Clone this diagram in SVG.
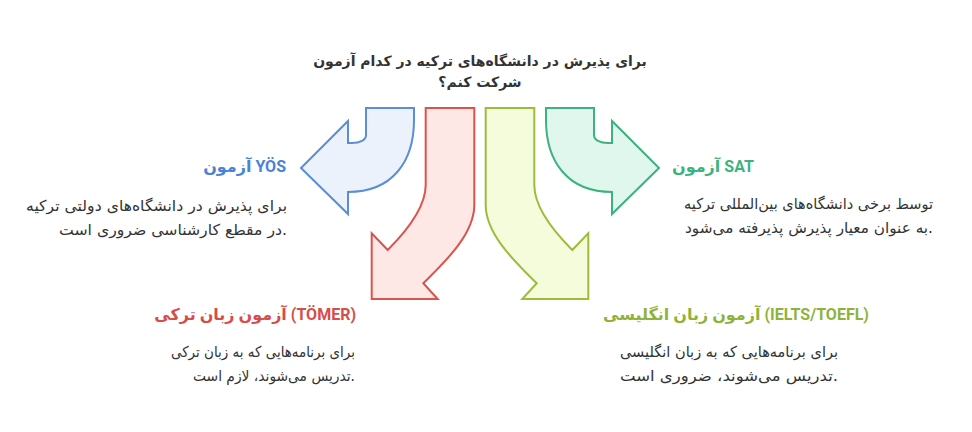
<svg xmlns="http://www.w3.org/2000/svg" width="972" height="432" viewBox="0 0 972 432">
<style>
.title{font-family:"DejaVu Sans","Noto Sans",sans-serif;font-size:14px;font-weight:bold;fill:#333333}
.lbl{font-family:Roboto,"DejaVu Sans",sans-serif;font-size:16px;font-weight:bold}
.desc{font-family:"DejaVu Sans","Noto Sans",sans-serif;font-size:15px;fill:#333333}
.arrow{stroke-width:2;stroke-linejoin:miter}
</style>
<rect width="972" height="432" fill="#ffffff"/>
<g id="title">
<text class="title" x="480" y="66" text-anchor="middle">برای پذیرش در دانشگاه‌های ترکیه در کدام آزمون</text>
<text class="title" x="480" y="87" text-anchor="middle">شرکت کنم؟</text>
</g>
<g id="connectors">
<path id="arrow-yos" class="arrow" fill="#ebf2fc" stroke="#5b8dd9" d="M366,108 L414,108 L414,120 C414,162 392,192 348,192 L348,214 L301,168 L348,121 L348,143 L352,143 C360,143 366,140 366,135 Z"/>
<path id="arrow-tomer" class="arrow" fill="#fde8e5" stroke="#d9534f" d="M425.7,108 L474.3,108 L474.3,205 C474.3,235 443.3,263.3 423.3,283.3 L437.7,299 L371.7,299 L371.7,233.3 L387.7,250 C402.7,235 425.7,210 425.7,185 Z"/>
<path id="arrow-ielts" class="arrow" fill="#f4fcdc" stroke="#9bbd3b" d="M534.3,108 L485.7,108 L485.7,205 C485.7,235 516.7,263.3 536.7,283.3 L522.3,299 L588.3,299 L588.3,233.3 L572.3,250 C557.3,235 534.3,210 534.3,185 Z"/>
<path id="arrow-sat" class="arrow" fill="#dff7ec" stroke="#3cb27e" d="M594,108 L546,108 L546,120 C546,162 568,192 612,192 L612,214 L659,168 L612,121 L612,143 L608,143 C600,143 594,140 594,135 Z"/>
</g>
<g id="node-yos">
<text class="lbl" x="286" y="172" text-anchor="end" fill="#4a82d6">آزمون YÖS</text>
<text class="desc" x="287" y="211" text-anchor="end" textLength="261" lengthAdjust="spacingAndGlyphs">برای پذیرش در دانشگاه‌های دولتی ترکیه</text>
<text class="desc" x="287" y="235" text-anchor="end" textLength="228" lengthAdjust="spacingAndGlyphs">در مقطع کارشناسی ضروری است.</text>
</g>
<g id="node-sat">
<text class="lbl" x="672" y="172" text-anchor="start" fill="#3cb27e">آزمون SAT</text>
<text class="desc" x="684" y="209" text-anchor="start" textLength="249" lengthAdjust="spacingAndGlyphs">توسط برخی دانشگاه‌های بین‌المللی ترکیه</text>
<text class="desc" x="685" y="233" text-anchor="start" textLength="248" lengthAdjust="spacingAndGlyphs">به عنوان معیار پذیرش پذیرفته می‌شود.</text>
</g>
<g id="node-tomer">
<text class="lbl" x="356" y="320" text-anchor="end" fill="#d64d4a">آزمون زبان ترکی (TÖMER)</text>
<text class="desc" x="355" y="357" text-anchor="end" textLength="184" lengthAdjust="spacingAndGlyphs">برای برنامه‌هایی که به زبان ترکی</text>
<text class="desc" x="355" y="381" text-anchor="end" textLength="162" lengthAdjust="spacingAndGlyphs">تدریس می‌شوند، لازم است.</text>
</g>
<g id="node-ielts">
<text class="lbl" x="603" y="320" text-anchor="start" fill="#8fb33a">آزمون زبان انگلیسی (IELTS/TOEFL)</text>
<text class="desc" x="620" y="357" text-anchor="start" textLength="218" lengthAdjust="spacingAndGlyphs">برای برنامه‌هایی که به زبان انگلیسی</text>
<text class="desc" x="620" y="381" text-anchor="start" textLength="218" lengthAdjust="spacingAndGlyphs">تدریس می‌شوند، ضروری است.</text>
</g>
</svg>
